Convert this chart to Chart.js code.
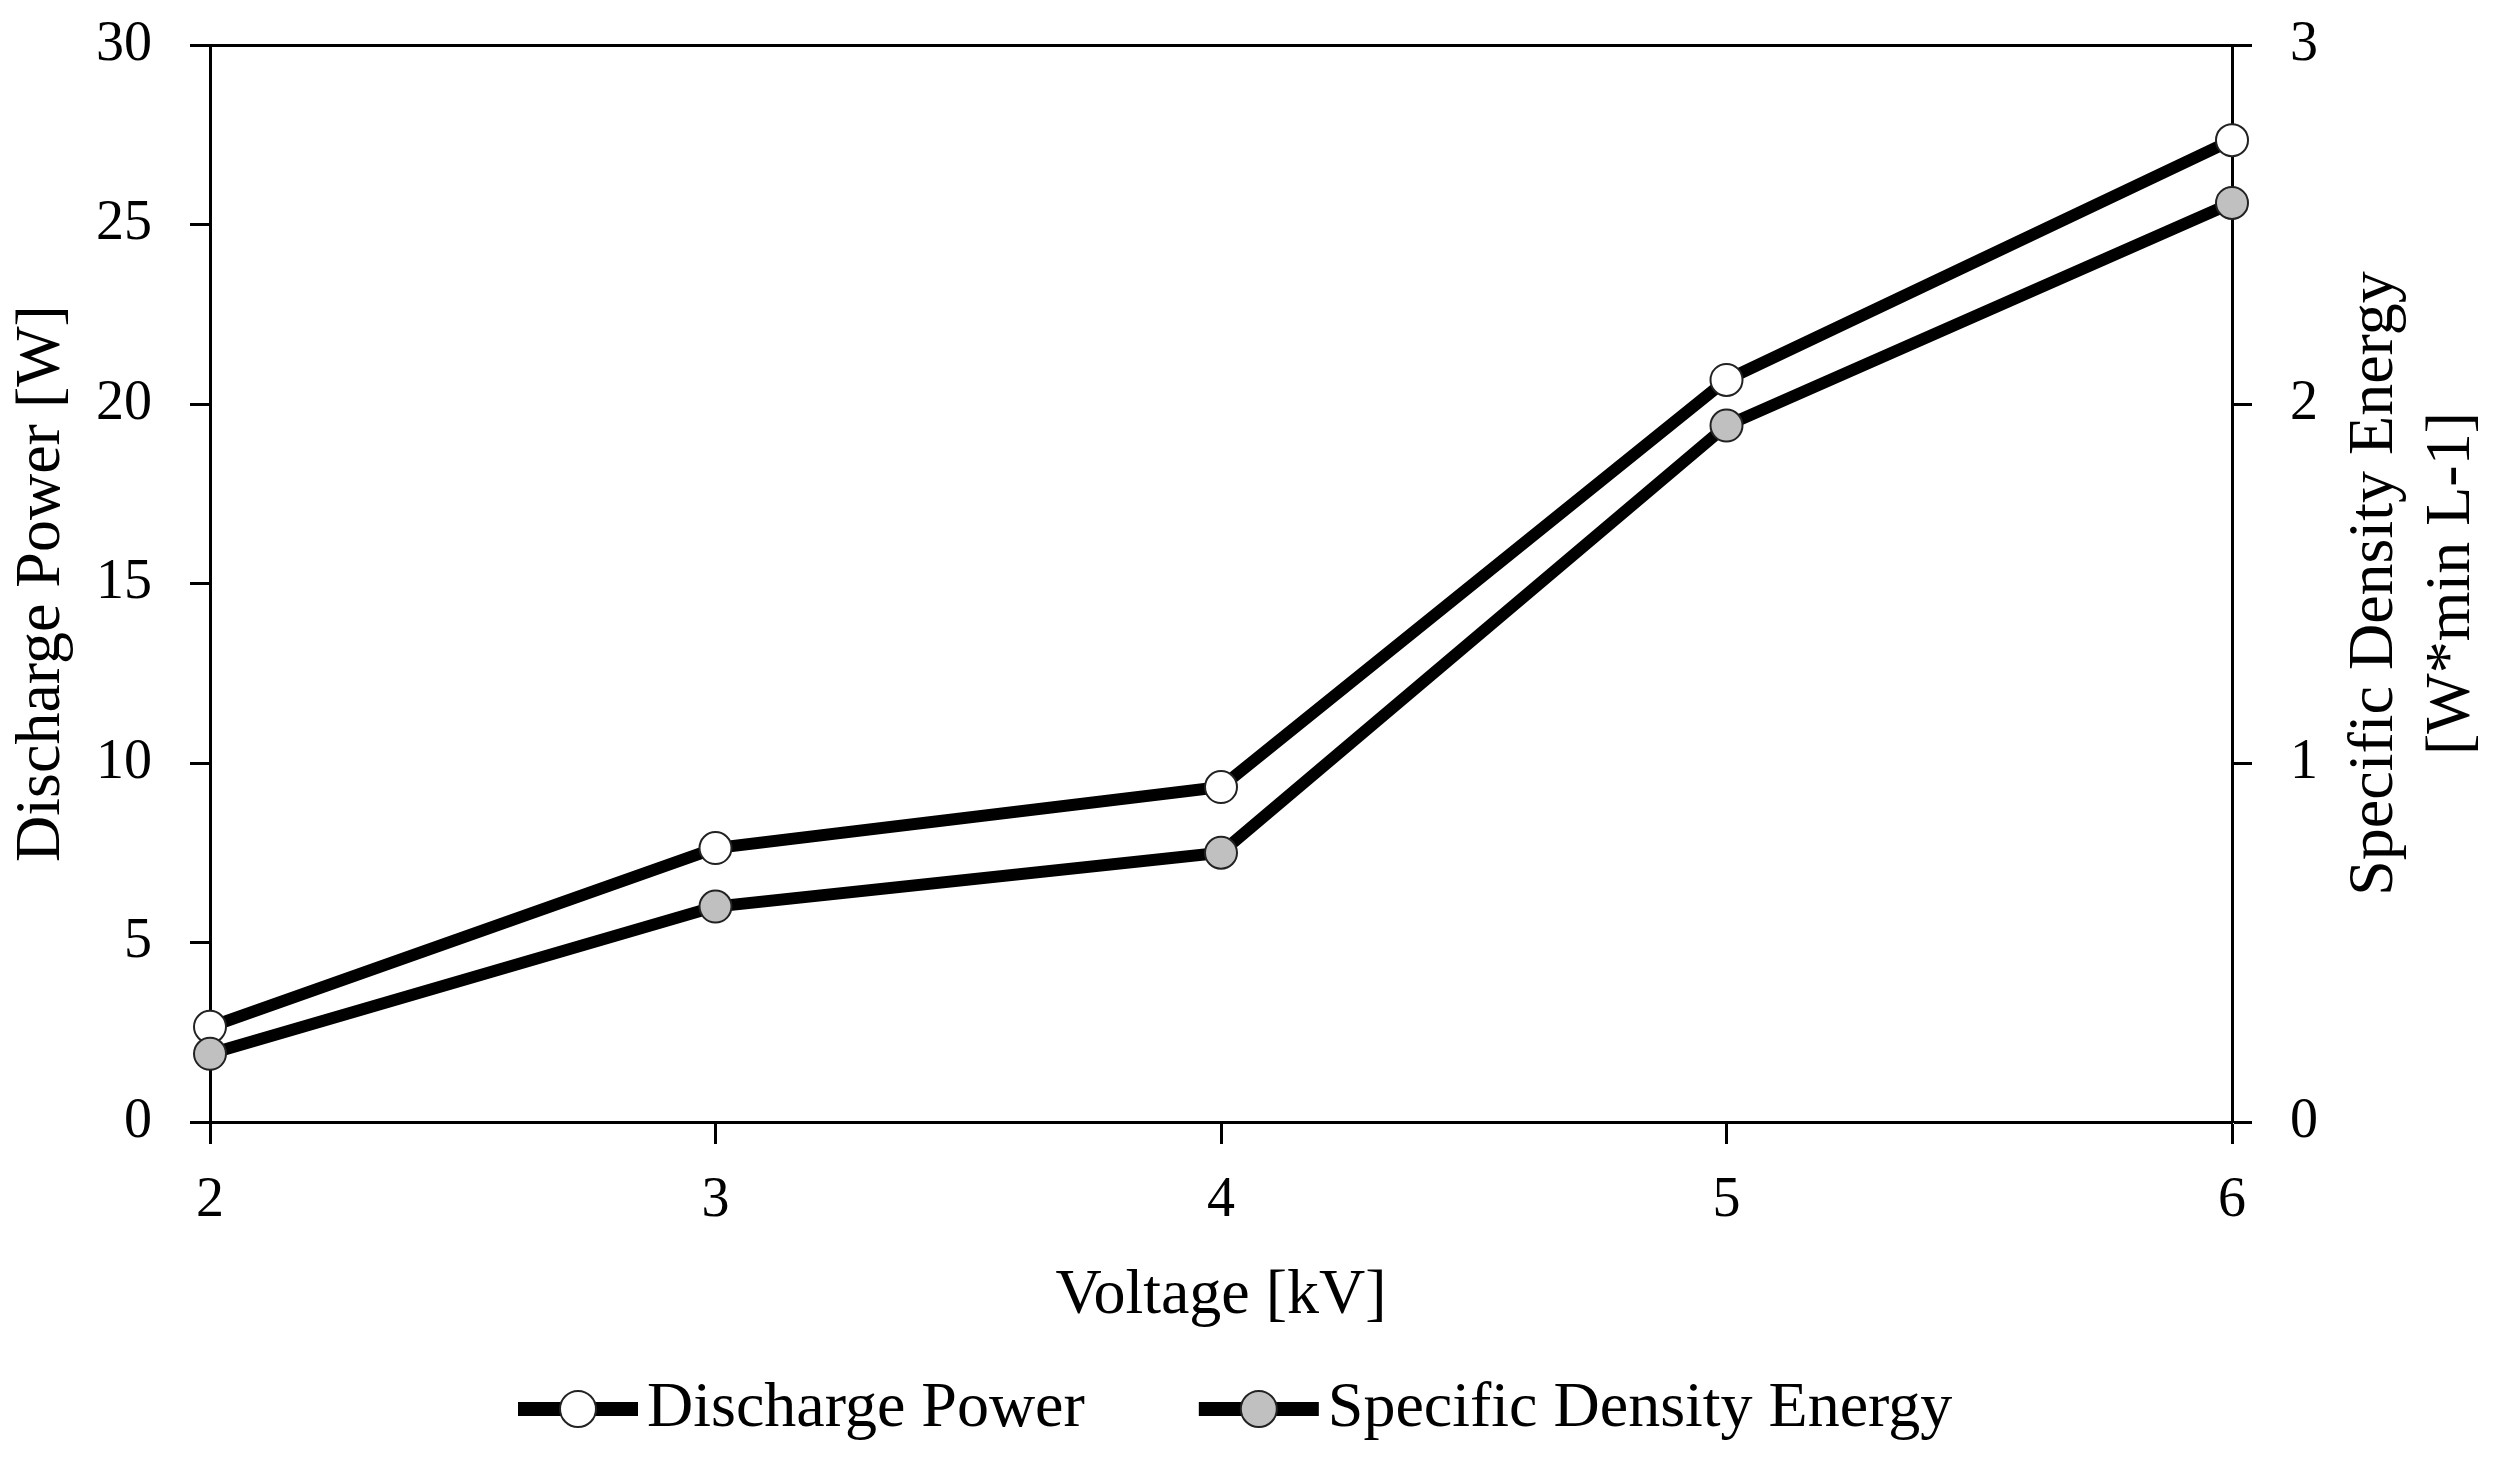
<!DOCTYPE html>
<html>
<head>
<meta charset="utf-8">
<script src="https://cdn.jsdelivr.net/npm/chart.js@4.4.0/dist/chart.umd.min.js"></script>
<style>
  html, body { margin: 0; padding: 0; background: #fff; }
  #wrap { width: 2506px; height: 1470px; position: relative; }
</style>
</head>
<body>
<div id="wrap"><canvas id="chart"></canvas></div>
<script>
const voltage = ["2", "3", "4", "5", "6"]
const dischargePower = [2.65, 7.63, 9.33, 20.67, 27.35]
const specificDensityEnergy = [0.19, 0.6, 0.75, 1.94, 2.56]
const powerTicks = [0, 30, 5]
const energyTicks = [0, 3, 1]

const FONT = "'Liberation Serif', 'Times New Roman', serif"
const xTitle = "Voltage [kV]"
const leftTitle = "Discharge Power [W]"
const rightTitle = ["Specific Density Energy", "[W*min L-1]"]

// titles and legend drawn by hand so they sit where the reference has them
const decorations = {
  id: "decorations",
  afterDraw(chart) {
    const ctx = chart.ctx
    const area = chart.chartArea
    const midY = (area.top + area.bottom) / 2
    ctx.save()
    ctx.fillStyle = "#000"
    ctx.font = `64px ${FONT}`
    ctx.textAlign = "center"
    ctx.textBaseline = "middle"

    ctx.fillText(xTitle, (area.left + area.right) / 2, area.bottom + 174)

    ctx.save()
    ctx.translate(42, midY)
    ctx.rotate(-Math.PI / 2)
    ctx.fillText(leftTitle, 0, 0)
    ctx.restore()

    rightTitle.forEach((line, i) => {
      ctx.save()
      ctx.translate(area.right + 143 + i * 77, midY)
      ctx.rotate(-Math.PI / 2)
      ctx.fillText(line, 0, 0)
      ctx.restore()
    })

    // legend
    const ly = area.bottom + 287
    let x = 518
    chart.data.datasets.slice().sort((a, b) => a.legendIndex - b.legendIndex).forEach(ds => {
      ctx.strokeStyle = "#000"
      ctx.lineWidth = 14
      ctx.beginPath()
      ctx.moveTo(x, ly)
      ctx.lineTo(x + 120, ly)
      ctx.stroke()
      ctx.beginPath()
      ctx.arc(x + 60, ly, 18, 0, Math.PI * 2)
      ctx.fillStyle = ds.pointBackgroundColor
      ctx.fill()
      ctx.lineWidth = 2
      ctx.strokeStyle = "#222"
      ctx.stroke()
      ctx.fillStyle = "#000"
      ctx.textAlign = "left"
      ctx.fillText(ds.label, x + 129, ly)
      x += 129 + ctx.measureText(ds.label).width + 114
    })
    ctx.restore()
  }
}

const axisBorder = { display: true, color: "#000", width: 3 }

// fixed box sizes, and no extra room for overhanging tick labels
const fixHeight = h => s => { s.height = h; s.paddingLeft = 0; s.paddingRight = 0 }
const fixWidth = w => s => { s.width = w; s.paddingTop = 0; s.paddingBottom = 0 }

new Chart(document.getElementById("chart"), {
  type: "line",
  data: {
    labels: voltage,
    datasets: [
      {
        label: "Specific Density Energy",
        legendIndex: 1,
        data: specificDensityEnergy,
        yAxisID: "y1",
        borderColor: "#000",
        borderWidth: 12,
        pointRadius: 16,
        pointBorderWidth: 2,
        pointBorderColor: "#222",
        pointBackgroundColor: "#c0c0c0",
        tension: 0,
        clip: false,
        order: 0,
      },
      {
        label: "Discharge Power",
        legendIndex: 0,
        data: dischargePower,
        yAxisID: "y",
        borderColor: "#000",
        borderWidth: 12,
        pointRadius: 16,
        pointBorderWidth: 2,
        pointBorderColor: "#222",
        pointBackgroundColor: "#ffffff",
        tension: 0,
        clip: false,
        order: 1,
      }
    ]
  },
  options: {
    responsive: true,
    maintainAspectRatio: false,
    devicePixelRatio: 1,
    animation: false,
    layout: { padding: 0 },
    plugins: {
      legend: { display: false },
      tooltip: { enabled: false },
    },
    scales: {
      x: {
        type: "category",
        position: "bottom",
        offset: false,
        grid: { drawOnChartArea: false, drawTicks: true, tickLength: 22, tickWidth: 3, tickColor: "#000" },
        border: axisBorder,
        ticks: { color: "#000", font: { family: FONT, size: 56 }, padding: 24, maxRotation: 0 },
        afterFit: fixHeight(348),
      },
      xTop: {
        type: "category",
        position: "top",
        offset: false,
        grid: { drawOnChartArea: false, drawTicks: false },
        border: axisBorder,
        ticks: { display: false },
        afterFit: fixHeight(45),
      },
      y: {
        type: "linear",
        position: "left",
        min: powerTicks[0],
        max: powerTicks[1],
        grid: { drawOnChartArea: false, drawTicks: true, tickLength: 20, tickWidth: 3, tickColor: "#000" },
        border: axisBorder,
        ticks: { stepSize: powerTicks[2], color: "#000", font: { family: FONT, size: 56 }, padding: 38 },
        afterFit: fixWidth(210),
      },
      y1: {
        type: "linear",
        position: "right",
        min: energyTicks[0],
        max: energyTicks[1],
        grid: { drawOnChartArea: false, drawTicks: true, tickLength: 20, tickWidth: 3, tickColor: "#000" },
        border: axisBorder,
        ticks: { stepSize: energyTicks[2], color: "#000", font: { family: FONT, size: 56 }, padding: 38 },
        afterFit: fixWidth(274),
      }
    }
  },
  plugins: [decorations]
})
</script>
</body>
</html>
